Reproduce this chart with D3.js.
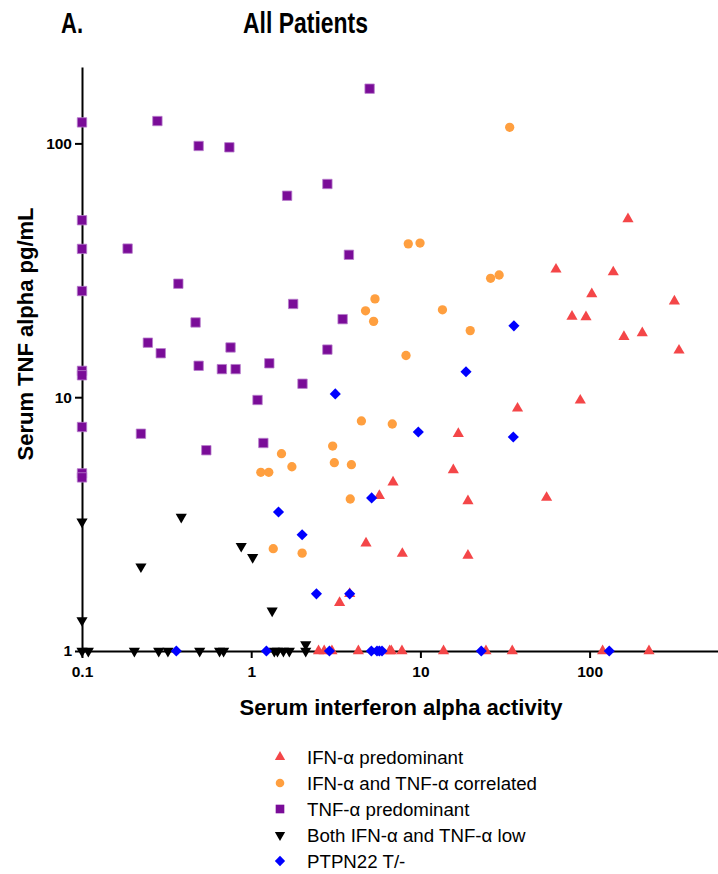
<!DOCTYPE html>
<html>
  <head>
    <meta charset="utf-8">
    <title>All Patients</title>
    <script src="https://d3js.org/d3.v7.min.js"></script>
    <style>
      body { margin: 0; background: #fff; }
      text { font-family: "Liberation Sans", Arial, Helvetica, sans-serif; }
    </style>
  </head>
  <body>

  <div id="chart"></div>

  <script>

  // values: [interferon alpha activity, TNF alpha pg/mL]
  var ifnPredominant = [
    [168.6, 50.4], [63.3, 31.9], [138, 31.1], [103, 25.5], [317, 23.9], [78.7, 20.8], [95.2, 20.7],
    [159.6, 17.3], [204.8, 17.9], [337.6, 15.3], [88.1, 9.72], [37.5, 9.04], [16.75, 7.18], [15.65, 5.17],
    [6.89, 4.62], [5.72, 4.09], [19.1, 3.9], [55.7, 4.02], [4.77, 2.66], [7.82, 2.42], [19.1, 2.38],
    [3.33, 1.55], [3.82, 1.68],
    [2.5, 1], [2.7, 1], [3.0, 1], [4.3, 1], [6.58, 1], [6.73, 1], [7.78, 1], [13.7, 1], [24.4, 1],
    [34.9, 1], [119.4, 1], [224.4, 1]
  ];
  var correlated = [
    [33.7, 115.7], [8.48, 40.2], [9.95, 40.5], [26.0, 29.4], [29.2, 30.3], [5.39, 24.4], [4.74, 21.9],
    [13.5, 22.1], [5.29, 19.9], [19.7, 18.3], [8.22, 14.6], [4.48, 8.06], [6.82, 7.84], [3.03, 6.42],
    [1.51, 5.99], [1.14, 5.06], [1.27, 5.06], [1.74, 5.32], [3.1, 5.52], [3.91, 5.42], [3.85, 3.97],
    [1.35, 2.53], [2.0, 2.43]
  ];
  var tnfPredominant = [
    [0.1, 121], [0.279, 122.5], [0.489, 97.7], [0.743, 96.5], [0.1, 49.8], [0.1, 38.4], [0.186, 38.5],
    [0.1, 26.2], [0.371, 28.0], [0.469, 19.7], [0.245, 16.4], [0.292, 14.9], [0.755, 15.7], [0.1, 12.7],
    [0.1, 12.2], [0.489, 13.3], [0.671, 12.9], [0.809, 12.9], [0.1, 7.63], [0.223, 7.18], [0.543, 6.18],
    [0.1, 5.01], [0.1, 4.83], [5.01, 164.3], [2.82, 69.2], [1.63, 62.2], [3.78, 36.4], [1.77, 23.3],
    [3.47, 20.3], [2.82, 15.4], [1.28, 13.6], [2.01, 11.3], [1.09, 9.75], [1.18, 6.6]
  ];
  var bothLow = [
    [0.1, 3.23], [0.386, 3.37], [0.223, 2.15], [0.1, 1.32], [0.873, 2.59], [1.02, 2.34], [1.33, 1.44],
    [2.1, 1.06],
    [0.1, 1], [0.109, 1], [0.204, 1], [0.284, 1], [0.322, 1], [0.496, 1], [0.65, 1], [0.687, 1],
    [1.37, 1], [1.43, 1], [1.55, 1], [1.68, 1], [2.1, 1]
  ];
  var ptpn22 = [
    [18.6, 12.6], [3.14, 10.3], [9.72, 7.29], [5.15, 4.01], [1.45, 3.53], [2.0, 2.87], [2.43, 1.68],
    [3.82, 1.68], [35.7, 19.1], [35.4, 6.97],
    [0.361, 1], [1.23, 1], [2.9, 1], [5.13, 1], [5.54, 1], [5.72, 1], [5.93, 1], [22.9, 1], [130.7, 1]
  ];

  var groupNames = ["IFN-\u03b1 predominant", "IFN-\u03b1 and TNF-\u03b1 correlated", "TNF-\u03b1 predominant",
                    "Both IFN-\u03b1 and TNF-\u03b1 low", "PTPN22 T/-"];
  var xTicks = [0.1, 1, 10, 100];
  var yTicks = [1, 10, 100];

  var width = 718, height = 874;
  var left = 82, bottom = 651, xDecade = 169.2, yDecade = 253.8;

  var groups = [
    { name: groupNames[0], data: ifnPredominant, type: d3.symbolTriangle, size: 54, rot: 0, fill: "#f44648" },
    { name: groupNames[1], data: correlated, type: d3.symbolCircle, size: 68, rot: 0, fill: "#ff9f3f" },
    { name: groupNames[2], data: tnfPredominant, type: d3.symbolSquare, size: 88, rot: 0, fill: "#7a0c98" },
    { name: groupNames[3], data: bothLow, type: d3.symbolTriangle, size: 54, rot: 180, fill: "#000" },
    { name: groupNames[4], data: ptpn22, type: d3.symbolSquare, size: 62, rot: 45, fill: "#0000ff" }
  ];

  var svg = d3.select("#chart").append("svg")
      .attr("width", width)
      .attr("height", height);

  var x = d3.scaleLog().domain([0.1, 1000]).range([left, left + 4 * xDecade]);
  var y = d3.scaleLog().domain([1, 200]).range([bottom, bottom - Math.log10(200) * yDecade]);

  // titles
  svg.append("text")
      .attr("x", 61).attr("y", 33)
      .attr("font-size", "29px").attr("font-weight", "bold")
      .attr("textLength", 22).attr("lengthAdjust", "spacingAndGlyphs")
      .text("A.");
  svg.append("text")
      .attr("x", 243).attr("y", 33)
      .attr("font-size", "29px").attr("font-weight", "bold")
      .attr("textLength", 125).attr("lengthAdjust", "spacingAndGlyphs")
      .text("All Patients");

  // axes
  var xAxis = svg.append("g")
      .attr("transform", "translate(0," + bottom + ")")
      .call(d3.axisBottom(x).tickValues(xTicks).tickFormat(d3.format("~g"))
        .tickSize(7).tickSizeOuter(0).tickPadding(8));
  var yAxis = svg.append("g")
      .attr("transform", "translate(" + left + ",0)")
      .call(d3.axisLeft(y).tickValues(yTicks).tickFormat(d3.format("~g"))
        .tickSize(7).tickSizeOuter(0).tickPadding(3));

  [xAxis, yAxis].forEach(function(g_){
      g_.select(".domain").attr("stroke", "#000").attr("stroke-width", 2);
      g_.selectAll(".tick line").attr("stroke", "#000").attr("stroke-width", 2);
      g_.selectAll(".tick text")
        .attr("fill", "#000")
        .style("font-family", "'Liberation Sans', Arial, sans-serif")
        .style("font-size", "15.5px")
        .style("font-weight", "bold");
  });

  svg.append("text")
      .attr("x", 401).attr("y", 715)
      .attr("text-anchor", "middle")
      .attr("font-size", "22px").attr("font-weight", "bold")
      .text("Serum interferon alpha activity");

  svg.append("text")
      .attr("transform", "translate(33,334) rotate(-90)")
      .attr("text-anchor", "middle")
      .attr("font-size", "22px").attr("font-weight", "bold")
      .text("Serum TNF alpha pg/mL");

  // points
  groups.forEach(function(g_){
      svg.append("g").selectAll("path")
          .data(g_.data)
          .enter()
          .append("path")
          .attr("d", d3.symbol().type(g_.type).size(g_.size))
          .attr("transform", function(d_){
              return "translate(" + x(d_[0]) + "," + y(d_[1]) + ") rotate(" + g_.rot + ")";
          })
          .attr("fill", g_.fill)
          .attr("stroke", g_.type === d3.symbolSquare && g_.rot === 0 ? "#b77ccb" : "none")
          .attr("stroke-width", 0.8);
  });

  // legend
  var legend = svg.selectAll(".legend")
      .data(groups)
      .enter()
      .append("g")
      .attr("class", "legend")
      .attr("transform", function(d_, i_){ return "translate(280," + (757 + 26 * i_) + ")"; });

  legend.append("path")
      .attr("d", function(d_){ return d3.symbol().type(d_.type).size(d_.size * 0.85)(); })
      .attr("transform", function(d_){ return "rotate(" + d_.rot + ")"; })
      .attr("fill", function(d_){ return d_.fill; });

  legend.append("text")
      .attr("x", 27)
      .attr("y", 6.5)
      .attr("font-size", "18.7px")
      .text(function(d_){ return d_.name; });

  </script>

  </body>
</html>
